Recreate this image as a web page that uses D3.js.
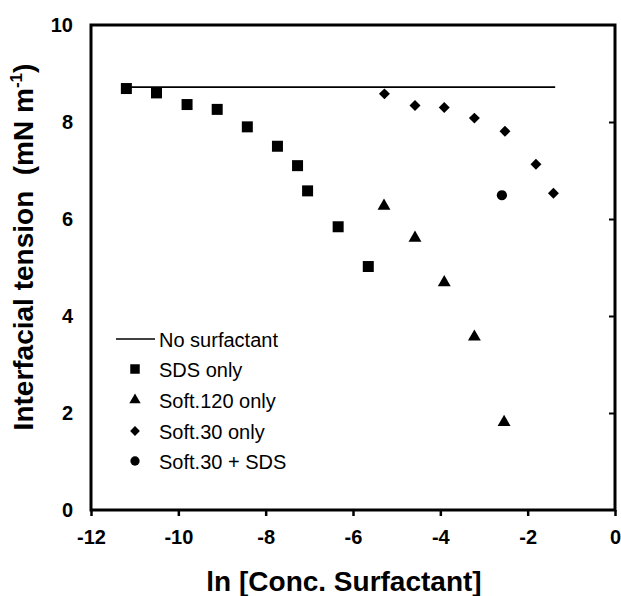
<!DOCTYPE html>
<html>
<head>
<meta charset="utf-8">
<script src="https://cdn.jsdelivr.net/npm/d3@7"></script>
<style>
  body { margin: 0; background: #fff; }
  svg { display: block; font-family: "Liberation Sans", Arial, sans-serif; }
</style>
</head>
<body>
<div id="chart"></div>
<script>
// ---- data ----
const noSurfactantX = [-11.2, -1.37];
const noSurfactantY = [8.72, 8.72];

const sdsX = [-11.19, -10.50, -9.80, -9.11, -8.42, -7.73, -7.27, -7.04, -6.34, -5.65];
const sdsY = [8.69, 8.60, 8.36, 8.26, 7.90, 7.50, 7.10, 6.58, 5.84, 5.02];

const soft120X = [-5.29, -4.58, -3.91, -3.22, -2.54];
const soft120Y = [6.27, 5.61, 4.69, 3.57, 1.81];

const soft30X = [-5.28, -4.58, -3.91, -3.22, -2.52, -1.81, -1.41];
const soft30Y = [8.58, 8.34, 8.30, 8.08, 7.81, 7.13, 6.53];

const soft30SdsX = [-2.59];
const soft30SdsY = [6.49];

const xTicks = [-12, -10, -8, -6, -4, -2, 0];
const yTicks = [0, 2, 4, 6, 8, 10];

const legendLabels = ['No surfactant', 'SDS only', 'Soft.120 only', 'Soft.30 only', 'Soft.30 + SDS'];

// ---- layout ----
const width = 621, height = 596;
const margin = { top: 25, right: 6, bottom: 86, left: 91 };
const innerW = width - margin.left - margin.right;
const innerH = height - margin.top - margin.bottom;

const svg = d3.select('#chart').append('svg')
    .attr('width', width)
    .attr('height', height);

const g = svg.append('g')
    .attr('transform', `translate(${margin.left},${margin.top})`);

const x = d3.scaleLinear().domain([-12, 0]).range([0, innerW]);
const y = d3.scaleLinear().domain([0, 10]).range([innerH, 0]);

// marker shapes (diamond = rotated square)
const shapes = {
    square: d3.symbol().type(d3.symbolSquare),
    triangle: d3.symbol().type(d3.symbolTriangle),
    diamond: d3.symbol().type(d3.symbolSquare),
    circle: d3.symbol().type(d3.symbolCircle)
};
const markerSize = { square: 121, triangle: 72, diamond: 60, circle: 82 };
const legendSize = { square: 90, triangle: 56, diamond: 48, circle: 68 };

function symbolPath(kind, size) {
    return shapes[kind].size(size)();
}

// plain hyphen for negatives, like the original figure
const fmt = d => String(d);

// x axis (ticks below the frame)
const xAxis = g.append('g')
    .attr('transform', `translate(0,${innerH})`)
    .call(d3.axisBottom(x).tickValues(xTicks).tickFormat(fmt).tickSize(6).tickSizeOuter(0).tickPadding(14));
xAxis.select('.domain').remove();
xAxis.selectAll('.tick line').attr('stroke', '#000').attr('stroke-width', 2.5);
xAxis.selectAll('.tick text')
    .attr('font-size', 20)
    .attr('font-weight', 'bold')
    .attr('fill', '#000');

// left y axis labels
const yAxis = g.append('g')
    .call(d3.axisLeft(y).tickValues(yTicks).tickFormat(fmt).tickSize(0).tickPadding(18));
yAxis.select('.domain').remove();
yAxis.selectAll('.tick text')
    .attr('font-size', 20)
    .attr('font-weight', 'bold')
    .attr('fill', '#000');

// right axis: inward ticks only
const yRight = g.append('g')
    .attr('transform', `translate(${innerW},0)`)
    .call(d3.axisLeft(y).tickValues([2, 4, 6, 8]).tickSize(6).tickFormat(''));
yRight.select('.domain').remove();
yRight.selectAll('.tick line').attr('stroke', '#000').attr('stroke-width', 2);

// frame
g.append('rect')
    .attr('x', 0)
    .attr('y', 0)
    .attr('width', innerW)
    .attr('height', innerH)
    .attr('fill', 'none')
    .attr('stroke', '#000')
    .attr('stroke-width', 3);

// no surfactant line
const line = d3.line().x(d => x(d[0])).y(d => y(d[1]));
g.append('path')
    .datum(noSurfactantX.map((v, i) => [v, noSurfactantY[i]]))
    .attr('d', line)
    .attr('fill', 'none')
    .attr('stroke', '#000')
    .attr('stroke-width', 1.6);

// scatter series
const series = [
    { xs: sdsX, ys: sdsY, kind: 'square' },
    { xs: soft120X, ys: soft120Y, kind: 'triangle' },
    { xs: soft30X, ys: soft30Y, kind: 'diamond' },
    { xs: soft30SdsX, ys: soft30SdsY, kind: 'circle' }
];

series.forEach(s => {
    g.append('g').selectAll('path')
        .data(s.xs.map((v, i) => [v, s.ys[i]]))
        .join('path')
        .attr('transform', d => `translate(${x(d[0])},${y(d[1])})` + (s.kind === 'diamond' ? ' rotate(45)' : ''))
        .attr('d', symbolPath(s.kind, markerSize[s.kind]))
        .attr('fill', '#000');
});

// legend
const legend = svg.append('g');
const legendKinds = ['line', 'square', 'triangle', 'diamond', 'circle'];
const legendRowY = [339, 369, 400, 431, 461];

legendKinds.forEach((kind, i) => {
    const ly = legendRowY[i];
    if (kind === 'line') {
        legend.append('line')
            .attr('x1', 116).attr('x2', 155)
            .attr('y1', ly).attr('y2', ly)
            .attr('stroke', '#000')
            .attr('stroke-width', 1.6);
    } else {
        legend.append('path')
            .attr('transform', `translate(135,${ly})` + (kind === 'diamond' ? ' rotate(45)' : ''))
            .attr('d', symbolPath(kind, legendSize[kind]))
            .attr('fill', '#000');
    }
    legend.append('text')
        .attr('x', 159)
        .attr('y', ly + 8)
        .attr('font-size', 20)
        .attr('fill', '#000')
        .text(legendLabels[i]);
});

// axis titles
svg.append('text')
    .attr('x', 344)
    .attr('y', 591)
    .attr('text-anchor', 'middle')
    .attr('font-size', 28)
    .attr('font-weight', 'bold')
    .text('ln [Conc. Surfactant]');

const yTitle = svg.append('text')
    .attr('transform', 'translate(33,247) rotate(-90)')
    .attr('text-anchor', 'middle')
    .attr('font-size', 28)
    .attr('font-weight', 'bold')
    .style('white-space', 'pre');
yTitle.append('tspan').text('Interfacial tension  (mN m');
yTitle.append('tspan').attr('font-size', 17).attr('dy', -11).text('-1');
yTitle.append('tspan').attr('dy', 11).text(')');
</script>
</body>
</html>
